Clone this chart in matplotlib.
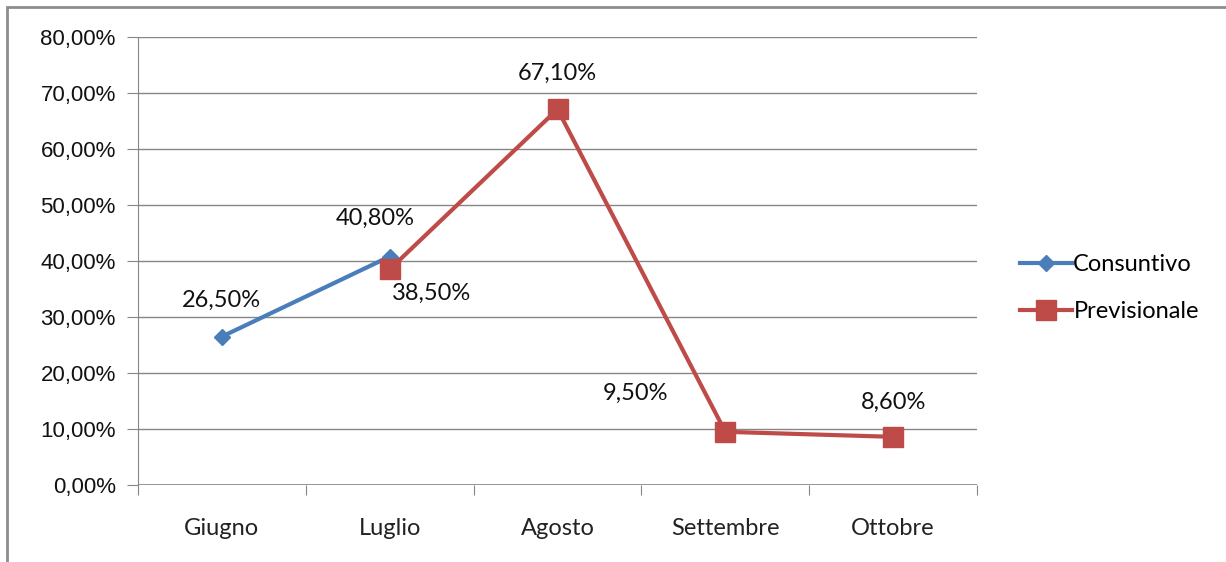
import matplotlib.pyplot as plt
from matplotlib.patches import Rectangle
from matplotlib.ticker import FuncFormatter, MultipleLocator

# data
mesi = ['Giugno', 'Luglio', 'Agosto', 'Settembre', 'Ottobre']
consuntivo_idx = [0, 1]
consuntivo = [26.5, 40.8]
previsionale_idx = [1, 2, 3, 4]
previsionale = [38.5, 67.1, 9.5, 8.6]

BLUE = '#4A7EBB'
RED = '#BE4B48'
GRID = '#868686'

fig = plt.figure(figsize=(12.26, 5.62), dpi=100)
W, H = 1226, 562

# outer chart frame
fig.patches.append(Rectangle((7 / W, -0.1), 1.2, 1 - 7 / H + 0.1,
                             transform=fig.transFigure, fill=False,
                             edgecolor='#8c8c8c', linewidth=2))

ax = fig.add_axes([138 / W, 1 - 485 / H, (977 - 138) / W, (485 - 37) / H])
ax.set_xlim(-0.5, len(mesi) - 0.5)
ax.set_ylim(0, 80)

ax.yaxis.set_major_locator(MultipleLocator(10))
ax.yaxis.set_major_formatter(FuncFormatter(lambda v, p: f'{v:.2f}%'.replace('.', ',')))
ax.grid(axis='y', color=GRID, linewidth=1)
ax.set_axisbelow(True)
for s in ['top', 'right', 'bottom']:
    ax.spines[s].set_visible(False)
ax.spines['left'].set_color(GRID)
ax.axhline(0, color=GRID, linewidth=1.2, zorder=1)

ax.set_xticks([i + 0.5 for i in range(-1, len(mesi))])
ax.set_xticklabels([])
ax.set_xticks(range(len(mesi)), minor=True)
ax.set_xticklabels(mesi, minor=True, fontsize=17, family='Lato', color='#222222')
ax.tick_params(axis='x', which='major', length=7, color=GRID)
ax.tick_params(axis='x', which='minor', length=0, pad=24)
ax.tick_params(axis='y', length=8, color=GRID, pad=8, labelsize=16, labelcolor='#111111')
for lab in ax.get_yticklabels():
    lab.set_family('Liberation Sans')

ax.plot(consuntivo_idx, consuntivo, color=BLUE, linewidth=3, marker='D',
        markersize=8.5, label='Consuntivo', zorder=3)
ax.plot(previsionale_idx, previsionale, color=RED, linewidth=3, marker='s',
        markersize=14, label='Previsionale', zorder=4)

def pct(v):
    return f'{v:.2f}%'.replace('.', ',')

lab_kw = dict(fontsize=17, family='Lato', color='#111111', ha='center', va='center')
ax.annotate(pct(consuntivo[0]), (0, consuntivo[0]), xytext=(0, 36), textcoords='offset pixels', **lab_kw)
ax.annotate(pct(consuntivo[1]), (1, consuntivo[1]), xytext=(-14, 38), textcoords='offset pixels', **lab_kw)
ax.annotate(pct(previsionale[0]), (1, previsionale[0]), xytext=(42, -24), textcoords='offset pixels', **lab_kw)
ax.annotate(pct(previsionale[1]), (2, previsionale[1]), xytext=(0, 36), textcoords='offset pixels', **lab_kw)
ax.annotate(pct(previsionale[2]), (3, previsionale[2]), xytext=(-90, 38), textcoords='offset pixels', **lab_kw)
ax.annotate(pct(previsionale[3]), (4, previsionale[3]), xytext=(0, 34), textcoords='offset pixels', **lab_kw)

leg = fig.legend(loc='center left', bbox_to_anchor=(999 / W, 1 - 288 / H), frameon=False,
                 prop={'family': 'Lato', 'size': 17}, handlelength=2.2, handletextpad=0.05,
                 labelspacing=1.1)

fig.savefig('out.png', dpi=100)
